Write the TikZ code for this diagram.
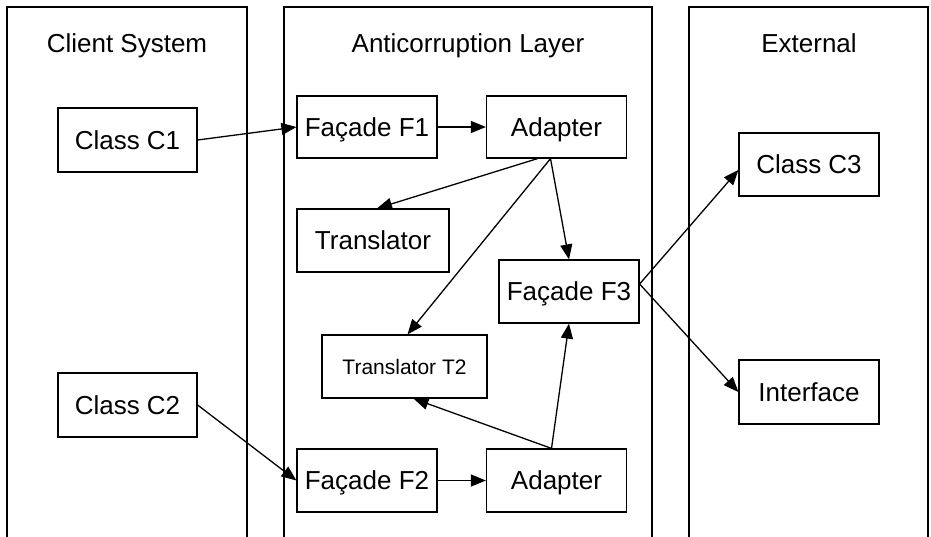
\documentclass[tikz,border=0pt]{standalone}
\usepackage{fontspec}
\setmainfont{Liberation Sans}
\usetikzlibrary{arrows.meta,calc}
\begin{document}
\begin{tikzpicture}[x=1pt,y=-1pt,
  box/.style={draw,line width=1.2pt,inner sep=0pt,minimum width=140pt,minimum height=63pt,
    font=\fontsize{26}{30}\selectfont,text height=18.6pt,text depth=0pt},
  smallbox/.style={box,font=\fontsize{21}{25}\selectfont,text height=15pt},
  panel/.style={draw,line width=1.2pt},
  title/.style={font=\fontsize{26}{30}\selectfont,anchor=base,inner sep=0pt},
  conn/.style={draw,line width=1.3pt,-{Triangle[length=15pt,width=12pt]}}]
\useasboundingbox (0,0) rectangle (931,536);
% panels
\draw[panel] (7,537) -- (7,7) -- (247,7) -- (247,537);
\draw[panel] (284,537) -- (284,7) -- (652,7) -- (652,537);
\draw[panel] (689,537) -- (689,7) -- (928,7) -- (928,537);
\node[title] (tcs) at (127,52.5) {Client System};
\node[title] (tal) at (468,52.5) {Anticorruption Layer};
\node[title] (tex) at (809,52.5) {External};
% boxes
\node[box,minimum width=139pt,minimum height=64pt] (C1) at (127.5,140) {Class C1};
\node[box,minimum width=139pt,minimum height=64pt] (C2) at (127.5,405) {Class C2};
\node[box,minimum height=62pt] (F1) at (367,127) {Façade F1};
\node[box,minimum height=62pt] (A1) at (556.5,127) {Adapter};
\node[box,minimum width=152pt] (Tr) at (373,240.5) {Translator};
\node[box] (F3) at (569,291.5) {Façade F3};
\node[smallbox,minimum width=165pt] (T2) at (404.5,366.5) {Translator T2};
\node[box] (F2) at (367,480.5) {Façade F2};
\node[box] (A2) at (556.5,480.5) {Adapter};
\node[box] (C3) at (809,164.5) {Class C3};
\node[box,minimum height=64pt] (If) at (809,392) {Interface};
% connectors
\draw[conn] (C1.east) -- (F1.west);
\draw[conn] (F1.east) -- (A1.west);
\draw[conn] ([xshift=-19pt]A1.south) -- ([xshift=4pt]Tr.north);
\draw[conn] ([xshift=-6pt]A1.south) -- (F3.north);
\draw[conn] ([xshift=-6pt]A1.south) -- ([xshift=3pt]T2.north);
\draw[conn] (C2.east) -- (F2.west);
\draw[conn] (F2.east) -- (A2.west);
\draw[conn] ([xshift=-5pt]A2.north) -- ([xshift=9pt]T2.south);
\draw[conn] ([xshift=-5pt]A2.north) -- (F3.south);
\draw[conn] ([yshift=7.5pt]F3.east) -- ([yshift=-5.5pt]C3.west);
\draw[conn] ([yshift=7.5pt]F3.east) -- (If.west);
\end{tikzpicture}
\end{document}
